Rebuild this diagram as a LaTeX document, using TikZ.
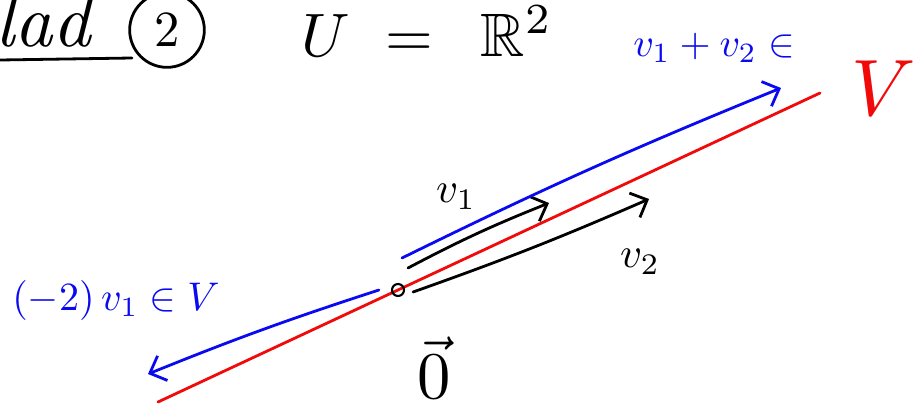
\documentclass[tikz,border=0pt]{standalone}
\usepackage{amsmath}
\usepackage{amssymb}
\usetikzlibrary{arrows.meta}
\definecolor{penblue}{RGB}{10,10,240}
\definecolor{penred}{RGB}{240,10,10}
\newcommand{\penbig}[2]{\scalebox{#1}{#2}}
\tikzset{
  sk/.style={x=0.75pt, y=-0.75pt, line width=2.1pt, line cap=round, line join=round},
  s ink/.style={draw=black},
  s blue/.style={draw=penblue},
  s red/.style={draw=penred},
  s arr/.style={-{Straight Barb[length=3.6mm, width=7mm]}},
  s txt/.style={inner sep=0pt},
  s pt/.style={draw, circle, line width=1.6pt, minimum size=9pt, inner sep=0pt},
}
\begin{document}
\begin{tikzpicture}[sk]
\useasboundingbox (0,0) rectangle (919,407);
% ---- heading ----
\node[s txt, anchor=base west] (lad) at (-6,46) {\penbig{5.6}{\itshape lad}};
\draw[s ink] (0,60) -- (132,58);
\node[s ink, circle, minimum size=56pt, inner sep=0pt] (nr) at (167,30) {\penbig{3.8}{2}};
\node[s txt, anchor=base west] (uu) at (300,56) {\penbig{4.6}{$U\hspace{0.3em}=\hspace{0.5em}\mathbb{R}^2$}};
% ---- subspace V ----
\coordinate (rA) at (158,402);
\coordinate (rB) at (820,93);
\draw[s red] (rA) -- (rB);
\node[s txt, text=penred] (vv) at (884,88) {\penbig{6}{$V$}};
% ---- origin and vectors ----
\node[s pt] (o) at (398,290) {};
\coordinate (v1) at (549,203);
\coordinate (v2) at (649,199);
\coordinate (s1) at (781,88);
\coordinate (m1) at (148,374);
\draw[s ink, s arr] (408,268) to[bend left=3] (v1);
\draw[s ink, s arr] (o.east) ++(8,2) to[bend right=2] (v2);
\draw[s blue, s arr] (402,258) to[bend left=2] (s1);
\draw[s blue, s arr] (o.west) ++(-12,0) to[bend right=2] (m1);
% ---- labels ----
\node[s txt] (lv1) at (456,197) {\penbig{3.2}{$v_1$}};
\node[s txt] (lv2) at (640,262) {\penbig{3.2}{$v_2$}};
\node[s txt, text=penblue] (ls) at (714,48) {\penbig{3}{$v_1+v_2\in$}};
\node[s txt, text=penblue] (lm) at (116,300) {\penbig{3}{$(-2)\,v_1\in V$}};
\node[s txt] (lo) at (434,368) {\penbig{5}{$\vec{0}$}};
\end{tikzpicture}
\end{document}
